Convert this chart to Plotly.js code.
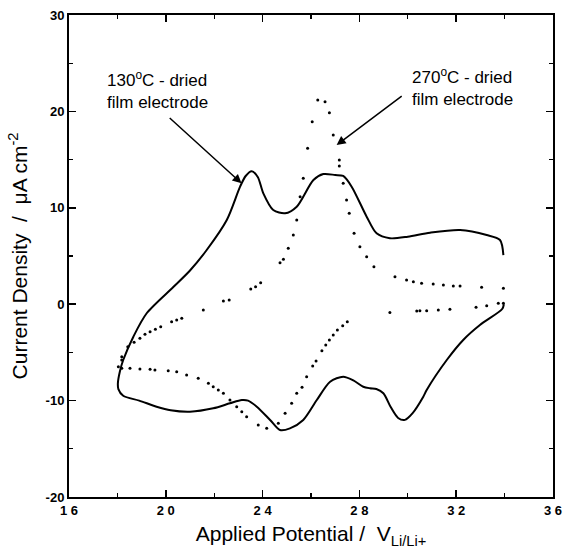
<!DOCTYPE html>
<html>
<head>
<meta charset="utf-8">
<script src="https://cdn.plot.ly/plotly-3.0.1.min.js"></script>
<style>html,body{margin:0;padding:0;background:#fff;}#chart{width:565px;height:556px;}</style>
</head>
<body>
<div id="chart"></div>
<script>
// 130 °C-dried film electrode (solid line): cathodic branch right->left, then anodic branch left->right
const film130X = [33.97, 33.9, 32.98, 32.29, 31.61, 30.78, 30.64, 30.2, 29.88, 29.6, 29.3, 28.99, 28.7, 28.44, 28.16, 27.75, 27.33, 26.79, 26.24, 25.68, 25.13, 24.72, 24.31, 23.76, 23.4, 23.14, 22.65, 21.96, 21.0, 20.2, 19.62, 18.9, 18.24, 18.04, 18.02,
  18.1, 18.24, 18.66, 19.21, 20.31, 21.0, 21.69, 22.52, 23.07, 23.3, 23.55, 23.8, 24.03, 24.44, 24.93, 25.41, 26.1, 26.51, 27.0, 27.33, 27.68, 28.3, 28.71, 29.26, 30.0, 30.92, 32.16, 33.26, 33.81, 33.95];
const film130Y = [0.0, -0.5, -2.16, -3.71, -5.79, -8.9, -9.6, -11.3, -12.0, -11.8, -10.7, -9.24, -8.8, -8.72, -8.56, -7.9, -7.52, -8.04, -9.94, -12.01, -12.88, -13.05, -12.01, -10.63, -10.0, -9.94, -10.28, -10.8, -11.15, -11.0, -10.63, -10.0, -9.5, -8.8, -8.2,
  -7.0, -5.79, -3.37, -0.94, 1.78, 3.5, 5.62, 8.73, 12.19, 13.3, 13.8, 13.2, 11.5, 9.77, 9.43, 10.11, 12.88, 13.5, 13.4, 13.3, 12.19, 9.08, 7.35, 6.84, 7.0, 7.42, 7.7, 7.18, 6.66, 5.1];

// 270 °C-dried film electrode (dotted line)
const film270X = [18.18, 18.43, 18.69, 18.93, 19.14, 19.35, 19.57, 19.79, 20.24, 20.45, 20.66, 21.55, 22.38, 22.62, 23.51, 23.71, 23.92, 24.72, 24.86, 25.06, 25.27, 25.41, 25.55, 25.68, 25.86, 26.05, 26.28, 26.58, 26.76, 26.92, 27.17, 27.17, 27.33, 27.47, 27.58, 27.78, 28.02, 28.3, 28.6, 29.47, 29.95, 30.23, 30.57, 31.05, 31.47, 31.88, 32.16, 33.05, 33.95,
  33.95, 33.74, 33.26, 32.82, 31.74, 31.26, 30.78, 30.5, 30.37, 29.26, 27.5, 27.31, 27.09, 26.92, 26.76, 26.61, 26.45, 26.21, 26.07, 25.82, 25.63, 25.41, 25.2, 24.93, 24.65, 24.17, 23.82, 23.34, 23.14, 22.93, 22.65, 22.38, 22.17, 21.96, 21.76, 21.34, 20.86, 20.45, 20.1, 19.55, 19.35, 18.93, 18.52, 18.18, 18.04, 18.18];
const film270Y = [-5.44, -4.41, -3.95, -3.54, -3.12, -2.85, -2.6, -2.33, -1.81, -1.64, -1.46, -0.6, 0.33, 0.44, 1.58, 1.82, 2.23, 4.3, 4.66, 5.8, 7.18, 8.73, 11.15, 13.06, 16.17, 18.93, 21.18, 21.0, 19.87, 17.55, 14.96, 14.34, 12.54, 10.81, 9.43, 7.35, 5.97, 4.93, 3.89, 2.85, 2.51, 2.33, 2.17, 2.1, 1.99, 1.89, 1.89, 1.75, 1.65,
  0.09, 0.09, -0.15, -0.32, -0.53, -0.6, -0.67, -0.67, -0.7, -0.85, -1.81, -2.23, -2.68, -3.2, -3.71, -4.23, -4.82, -5.89, -6.41, -7.52, -8.62, -9.24, -10.28, -11.32, -12.36, -12.88, -12.53, -11.67, -11.15, -10.63, -9.94, -9.24, -8.9, -8.56, -8.2, -7.69, -7.34, -7.0, -6.9, -6.83, -6.75, -6.72, -6.65, -6.65, -6.48, -5.79];

const xTickVals = [16, 20, 24, 28, 32, 36];
const xTickText = ['1 6', '2 0', '2 4', '2 8', '3 2', '3 6'];
const yTickVals = [-20, -10, 0, 10, 20, 30];
const yTickText = ['-20', '-10', '0', '10', '20', '30'];

const label130 = '130<sup>o</sup>C - dried<br>film electrode';
const label270 = '270<sup>o</sup>C - dried<br>film electrode';

const font = 'Liberation Sans, Arial, Helvetica, sans-serif';
const tickFont = {family: font, size: 13, color: '#000', weight: 'bold'};

const traces = [
  {x: film130X, y: film130Y, type: 'scatter', mode: 'lines', name: '130 °C',
   line: {color: '#000', width: 2, shape: 'spline', smoothing: 0.8}, hoverinfo: 'skip'},
  {x: film270X, y: film270Y, type: 'scatter', mode: 'markers', name: '270 °C',
   marker: {color: '#000', size: 3}, hoverinfo: 'skip'}
];

const axisCommon = {
  showgrid: false, zeroline: false, showline: true, linecolor: '#000', linewidth: 2,
  mirror: 'ticks', ticks: 'inside', ticklen: 7, tickwidth: 1.5, tickcolor: '#000',
  tickfont: tickFont
};

const layout = {
  width: 565, height: 556,
  margin: {l: 69, r: 12, t: 15, b: 59},
  paper_bgcolor: '#fff', plot_bgcolor: '#fff',
  showlegend: false,
  font: {family: font, color: '#000'},
  xaxis: Object.assign({}, axisCommon, {
    range: [16, 36], tickmode: 'array', tickvals: xTickVals, ticktext: xTickText,
    minor: {ticks: 'inside', ticklen: 4, tickwidth: 1.2, tickcolor: '#000', dtick: 2, tick0: 16},
    title: {text: 'Applied Potential /  V<sub>Li/Li+</sub>', font: {family: font, size: 21, color: '#000'}, standoff: 10}
  }),
  yaxis: Object.assign({}, axisCommon, {
    range: [-20, 30], tickmode: 'array', tickvals: yTickVals, ticktext: yTickText,
    minor: {ticks: 'inside', ticklen: 4, tickwidth: 1.2, tickcolor: '#000', dtick: 5, tick0: 0},
    title: {text: 'Current Density  /  μA cm<sup>-2</sup>', font: {family: font, size: 21, color: '#000'}, standoff: 12}
  }),
  annotations: [
    {x: 17.49, y: 22.17, xref: 'x', yref: 'y', text: label130, showarrow: false,
     xanchor: 'left', yanchor: 'middle', align: 'left', font: {family: font, size: 17, color: '#000'}},
    {x: 30.09, y: 22.53, xref: 'x', yref: 'y', text: label270, showarrow: false,
     xanchor: 'left', yanchor: 'middle', align: 'left', font: {family: font, size: 17, color: '#000'}},
    {x: 23.13, y: 12.54, ax: 20.1, ay: 19.45, xref: 'x', yref: 'y', axref: 'x', ayref: 'y', text: '',
     showarrow: true, arrowhead: 2, arrowsize: 1.2, arrowwidth: 1.5, arrowcolor: '#000'},
    {x: 27.06, y: 16.51, ax: 29.81, ay: 21.7, xref: 'x', yref: 'y', axref: 'x', ayref: 'y', text: '',
     showarrow: true, arrowhead: 2, arrowsize: 1.2, arrowwidth: 1.5, arrowcolor: '#000'}
  ]
};

Plotly.newPlot('chart', traces, layout, {displayModeBar: false, staticPlot: true});
</script>
</body>
</html>
